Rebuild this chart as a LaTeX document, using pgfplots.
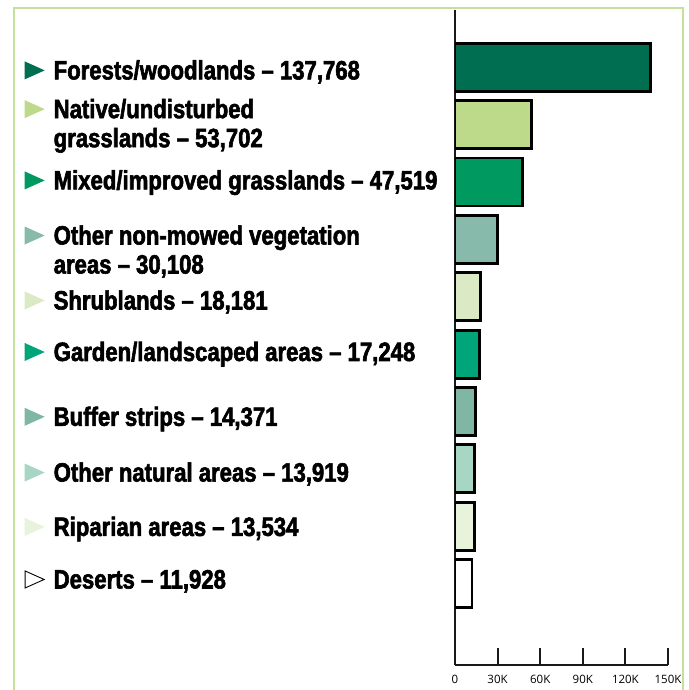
\documentclass[border=0pt]{standalone}
\usepackage{pgfplots}
\pgfplotsset{compat=1.18}
\usepackage{fontspec}
\setmainfont{Liberation Sans}
\newfontfamily\labfont{Liberation Sans}[FakeStretch=0.835, FakeBold=2.2]
\newfontfamily\tickfont{Open Sans}
\definecolor{c1}{RGB}{0,110,80}
\definecolor{c2}{RGB}{189,217,138}
\definecolor{c3}{RGB}{0,153,96}
\definecolor{c4}{RGB}{135,186,170}
\definecolor{c5}{RGB}{219,234,196}
\definecolor{c6}{RGB}{0,166,122}
\definecolor{c7}{RGB}{128,182,164}
\definecolor{c8}{RGB}{167,215,196}
\definecolor{c9}{RGB}{233,242,218}
\definecolor{c10}{RGB}{255,255,255}
\definecolor{framegreen}{RGB}{197,224,154}
\newcommand\tri[1]{\tikz[baseline=0pt]\fill[#1] (0pt,0pt)--(20pt,9pt)--(0pt,18pt)--cycle;}
\newcommand\otri{\tikz[baseline=0pt]\draw[black, line width=0.9pt] (0.5pt,0.5pt)--(19.5pt,9pt)--(0.5pt,17.5pt)--cycle;}
\newcommand\lab[2]{\makebox[29pt][l]{#1}#2}
\begin{document}
\begin{tikzpicture}
\useasboundingbox (0pt,0pt) rectangle (688pt,-690pt);
\begin{axis}[
  at={(455pt,-665pt)}, anchor=south west,
  scale only axis, width=213pt, height=655pt,
  xmin=0, xmax=150000, ymin=-1.42, ymax=10.0,
  xbar, bar width=48pt, bar shift=0pt,
  axis lines=left, axis line style={-, line width=2pt, black!90},
  xtick={0,30000,60000,90000,120000,150000},
  xticklabels={0,30K,60K,90K,120K,150K},
  xtick align=inside, major tick length=17pt,
  xtick style={line width=2pt, black!90},
  xticklabel style={font=\tickfont\fontsize{11.5}{13}\selectfont, inner sep=0pt, text depth=0pt, yshift=-10pt},
  ytick={8.922,7.98,6.99,5.79,4.91,4.0,2.87,1.91,0.95,0.04},
  ytick style={draw=none},
  yticklabel style={font=\labfont\bfseries\fontsize{26.5}{29}\selectfont, anchor=west, xshift=-422pt, inner sep=0pt, align=left},
  yticklabels={
    {\lab{\tri{c1}}{Forests/woodlands – 137,768}},
    {\lab{\tri{c2}}{Native/undisturbed}\\\hspace*{29pt}grasslands – 53,702},
    {\lab{\tri{c3}}{Mixed/improved grasslands – 47,519}},
    {\lab{\tri{c4}}{Other non-mowed vegetation}\\\hspace*{29pt}areas – 30,108},
    {\lab{\tri{c5}}{Shrublands – 18,181}},
    {\lab{\tri{c6}}{Garden/landscaped areas – 17,248}},
    {\lab{\tri{c7}}{Buffer strips – 14,371}},
    {\lab{\tri{c8}}{Other natural areas – 13,919}},
    {\lab{\tri{c9}}{Riparian areas – 13,534}},
    {\lab{\otri}{Deserts – 11,928}}
  },
  every axis plot/.append style={draw=black, line width=2.8pt},
]
\addplot[fill=c1] coordinates {(137768,9)};
\addplot[fill=c2] coordinates {(53702,8)};
\addplot[fill=c3] coordinates {(47519,7)};
\addplot[fill=c4] coordinates {(30108,6)};
\addplot[fill=c5] coordinates {(18181,5)};
\addplot[fill=c6] coordinates {(17248,4)};
\addplot[fill=c7] coordinates {(14371,3)};
\addplot[fill=c8] coordinates {(13919,2)};
\addplot[fill=c9] coordinates {(13534,1)};
\addplot[fill=c10] coordinates {(11928,0)};
\end{axis}
\draw[framegreen, line width=2.7pt] (14pt,-700pt) -- (14pt,-8pt) -- (683pt,-8pt) -- (683pt,-700pt);
\end{tikzpicture}
\end{document}
